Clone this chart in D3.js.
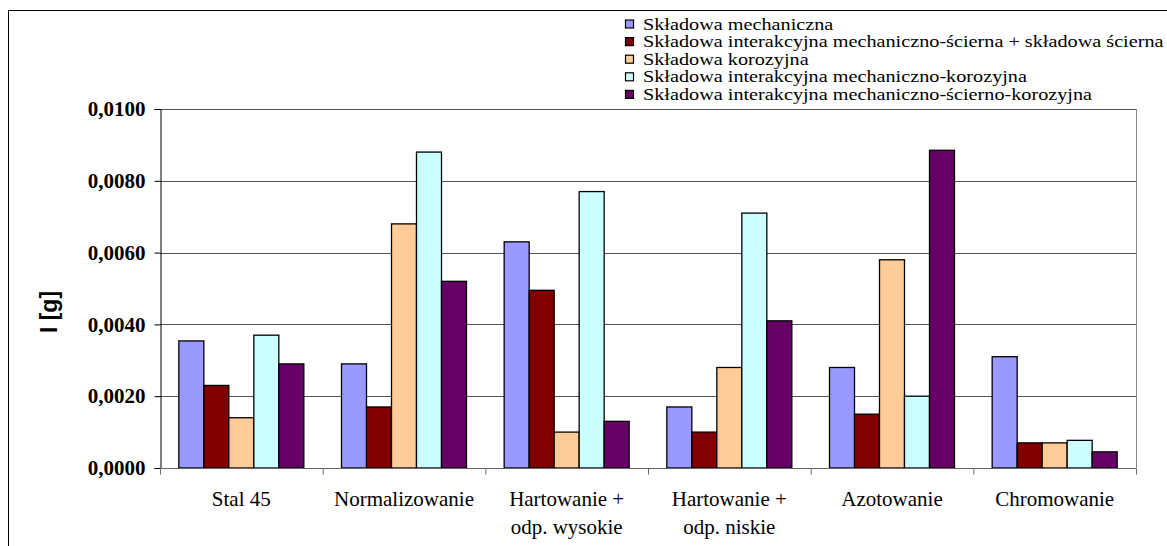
<!DOCTYPE html>
<html><head><meta charset="utf-8">
<script src="https://cdn.jsdelivr.net/npm/d3@7"></script>
<style>body{margin:0;background:#fff}svg{display:block}</style>
</head><body><svg id="c" width="1167" height="546"></svg>
<script>
const categories = [["Stal 45"],["Normalizowanie"],["Hartowanie +","odp. wysokie"],["Hartowanie +","odp. niskie"],["Azotowanie"],["Chromowanie"]];
const seriesNames = ["Składowa mechaniczna","Składowa interakcyjna mechaniczno-ścierna + składowa ścierna","Składowa korozyjna","Składowa interakcyjna mechaniczno-korozyjna","Składowa interakcyjna mechaniczno-ścierno-korozyjna"];
const seriesColors = ["#9999FF","#800000","#FFCC99","#CCFFFF","#660066"];
const mechaniczna = [0.00354,0.0029,0.0063,0.0017,0.0028,0.0031];
const mechScierna = [0.0023,0.0017,0.00495,0.0010,0.0015,0.0007];
const korozyjna = [0.0014,0.0068,0.0010,0.0028,0.0058,0.0007];
const mechKorozyjna = [0.0037,0.0088,0.0077,0.0071,0.0020,0.00077];
const mechSciernoKor = [0.0029,0.0052,0.0013,0.0041,0.00885,0.00045];
const yTicks = [0,0.002,0.004,0.006,0.008,0.010];
const yTitle = "I [g]";
const seriesValues = [mechaniczna, mechScierna, korozyjna, mechKorozyjna, mechSciernoKor];

const serif = "'Liberation Serif','Times New Roman',serif";
const svg = d3.select("#c");
const L=160, R=1136, T=109, B=468;
svg.append("rect").attr("x",8.5).attr("y",10.5).attr("width",1200).attr("height",600).attr("fill","none").attr("stroke","#000");

const x0 = d3.scaleBand().domain(d3.range(categories.length)).range([L,R]);
const inner = 125/162.67;
const x1 = d3.scaleBand().domain(d3.range(seriesNames.length)).range([0,x0.bandwidth()*inner]);
const y = d3.scaleLinear().domain([0,0.01]).range([B,T]);

svg.append("g").selectAll("line").data(yTicks.slice(1)).join("line")
  .attr("x1",L).attr("x2",R).attr("y1",d=>Math.round(y(d))+0.5).attr("y2",d=>Math.round(y(d))+0.5)
  .attr("stroke","#555").attr("stroke-width",1);
svg.append("line").attr("x1",R+0.5).attr("x2",R+0.5).attr("y1",T).attr("y2",B).attr("stroke","#888");

const off = x0.bandwidth()*(1-inner)/2;
seriesValues.forEach((vals,si)=>{
  svg.append("g").selectAll("rect").data(vals).join("rect")
    .attr("x",(d,i)=>x0(i)+off+x1(si))
    .attr("y",d=>y(d))
    .attr("width",x1.bandwidth())
    .attr("height",d=>B-y(d))
    .attr("fill",seriesColors[si]).attr("stroke","#000").attr("stroke-width",1.3);
});

const ya = svg.append("g").attr("transform",`translate(${L+0.5},0)`)
  .call(d3.axisLeft(y).tickValues(yTicks).tickSize(6).tickPadding(9).tickFormat(d=>d3.format(".4f")(d).replace(".",",")));
ya.select(".domain").attr("stroke","#000");
ya.selectAll("text").attr("font-family",serif).attr("font-weight","bold").attr("font-size",21).attr("fill","#000");

const xa = svg.append("g").attr("transform",`translate(0,${B+0.5})`);
xa.append("line").attr("x1",L).attr("x2",R).attr("stroke","#666");
xa.selectAll("line.t").data(d3.range(categories.length+1)).join("line").attr("class","t")
  .attr("x1",i=>(i<categories.length?x0(i):R)+0.5).attr("x2",i=>(i<categories.length?x0(i):R)+0.5)
  .attr("y1",0).attr("y2",6).attr("stroke","#666");
categories.forEach((lines,i)=>{
  const t = svg.append("text").attr("font-family",serif).attr("font-size",21).attr("text-anchor","middle").attr("fill","#000");
  lines.forEach((s,j)=>t.append("tspan").attr("x",x0(i)+x0.bandwidth()/2).attr("y",506+j*28).text(s));
});

svg.append("text").attr("transform","translate(57,312) rotate(-90)").attr("text-anchor","middle")
  .attr("font-family","'Liberation Sans',Arial,sans-serif").attr("font-weight","bold").attr("font-size",23).text(yTitle);

const lg = svg.append("g");
seriesNames.forEach((n,i)=>{
  const cy = 24.5 + i*17.6;
  lg.append("rect").attr("x",625.5).attr("y",cy-4.5).attr("width",8).attr("height",8).attr("fill",seriesColors[i]).attr("stroke","#000").attr("stroke-width",1.2);
  lg.append("text").attr("transform",`translate(643,${cy+5}) scale(1.19,1)`).attr("font-family",serif).attr("font-size",17).text(n);
});
</script></body></html>
